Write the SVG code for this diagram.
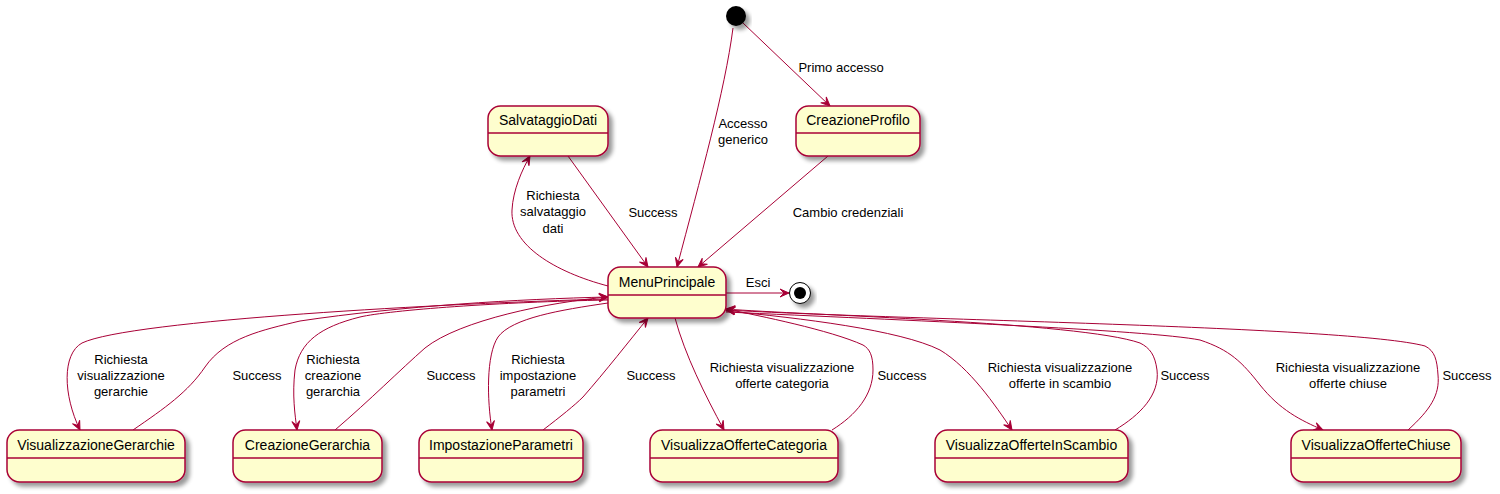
<svg xmlns="http://www.w3.org/2000/svg" width="1500" height="494" viewBox="0 0 1500 494">
<style>
.st{fill:#FEFECE;stroke:#A80036;stroke-width:1.5;}
.dv{stroke:#A80036;stroke-width:1.5;}
.nt{font-family:"Liberation Sans",Arial,sans-serif;font-size:14px;fill:#000;text-anchor:middle;}
.e{fill:none;stroke:#A80036;stroke-width:1;}
.ea{fill:none;stroke:#A80036;stroke-width:1;marker-end:url(#ah);}
.lb{font-family:"Liberation Sans",Arial,sans-serif;font-size:13px;fill:#000;text-anchor:middle;}
</style>
<defs>
<filter id="sh" x="-20%" y="-20%" width="150%" height="160%">
<feGaussianBlur in="SourceAlpha" stdDeviation="2" result="b"/>
<feOffset in="b" dx="4" dy="4" result="o"/>
<feComponentTransfer in="o" result="c"><feFuncA type="linear" slope="0.4"/></feComponentTransfer>
<feMerge><feMergeNode in="c"/><feMergeNode in="SourceGraphic"/></feMerge>
</filter>
<marker id="ah" viewBox="-10 -5 11 10" refX="0" refY="0" markerWidth="11" markerHeight="10" orient="auto" markerUnits="userSpaceOnUse">
<path d="M0,0 L-9,-4 L-5,0 L-9,4 Z" fill="#A80036" stroke="#A80036" stroke-width="1"/>
</marker>
</defs>
<rect width="1500" height="494" fill="#FFFFFF"/>

<g id="connectors">
<path class="ea" d="M743,23 L830,106"/>
<path class="ea" d="M733,28 C725,90 700,180 677,267"/>
<path class="ea" d="M828,156 L698,267"/>
<path class="ea" d="M568,156 L648,267"/>
<path class="ea" d="M608,286 C555,272 510,245 512,210 C513,190 522,170 530,156"/>
<path class="ea" d="M726,293 L789,293"/>

<path class="ea" d="M608,299 C450,303 130,320 82,343 C62,354 63,395 80,430"/>
<path class="ea" d="M133,430 C165,408 188,392 205,367 C225,338 262,330 300,321 C400,306 520,299 608,297"/>
<path class="ea" d="M608,300 C500,302 390,310 360,317 C320,327 300,342 295,370 C292,395 295,415 297,430"/>
<path class="ea" d="M335,430 C370,400 400,370 425,348 C460,320 550,302 608,297"/>
<path class="ea" d="M608,303 C560,310 512,318 498,337 C486,355 487,400 492,430"/>
<path class="ea" d="M543,430 C560,417 575,405 583,397 C605,372 630,340 648,318"/>
<path class="ea" d="M675,318 C685,355 705,395 724,430"/>
<path class="ea" d="M832,430 C856,415 873,395 873,370 C873,356 870,349 863,345 C830,330 760,316 726,309"/>
<path class="ea" d="M726,311 C800,318 900,330 940,350 C970,368 995,405 1012,430"/>
<path class="ea" d="M1115,430 C1140,415 1160,395 1157,370 C1155,355 1150,348 1140,343 C1080,322 800,315 726,309"/>
<path class="ea" d="M726,312 C900,320 1150,330 1200,340 C1230,350 1242,362 1260,385 C1280,410 1300,420 1323,430"/>
<path class="ea" d="M1408,430 C1430,410 1440,395 1438,375 C1437,360 1435,351 1425,346 C1350,326 900,320 726,310"/>
</g>

<g id="labels">
<text class="lb" x="841" y="72">Primo accesso</text>
<text class="lb" x="743" y="128">Accesso</text>
<text class="lb" x="743" y="144">generico</text>
<text class="lb" x="848" y="217">Cambio credenziali</text>
<text class="lb" x="653" y="217">Success</text>
<text class="lb" x="553" y="200">Richiesta</text>
<text class="lb" x="553" y="216">salvataggio</text>
<text class="lb" x="553" y="233">dati</text>
<text class="lb" x="758" y="287">Esci</text>

<text class="lb" x="121" y="364">Richiesta</text>
<text class="lb" x="121" y="380">visualizzazione</text>
<text class="lb" x="121" y="396">gerarchie</text>
<text class="lb" x="257" y="380">Success</text>
<text class="lb" x="333" y="364">Richiesta</text>
<text class="lb" x="333" y="380">creazione</text>
<text class="lb" x="333" y="396">gerarchia</text>
<text class="lb" x="451" y="380">Success</text>
<text class="lb" x="538" y="364">Richiesta</text>
<text class="lb" x="538" y="380">impostazione</text>
<text class="lb" x="538" y="396">parametri</text>
<text class="lb" x="651" y="380">Success</text>
<text class="lb" x="782" y="372">Richiesta visualizzazione</text>
<text class="lb" x="782" y="388">offerte categoria</text>
<text class="lb" x="902" y="380">Success</text>
<text class="lb" x="1060" y="372">Richiesta visualizzazione</text>
<text class="lb" x="1060" y="388">offerte in scambio</text>
<text class="lb" x="1185" y="380">Success</text>
<text class="lb" x="1348" y="372">Richiesta visualizzazione</text>
<text class="lb" x="1348" y="388">offerte chiuse</text>
<text class="lb" x="1467" y="380">Success</text>
</g>

<g id="start">
<circle cx="736" cy="16" r="10" fill="#000" filter="url(#sh)"/>
</g>
<g id="end">
<circle cx="800" cy="293" r="10.5" fill="#FFFFFF" stroke="#000" stroke-width="1" filter="url(#sh)"/>
<circle cx="800" cy="293" r="6" fill="#000"/>
</g>

<g id="SalvataggioDati">
<rect class="st" x="488" y="106" width="120" height="50" rx="12.5" filter="url(#sh)"/>
<line class="dv" x1="488" y1="133" x2="608" y2="133"/>
<text class="nt" x="548" y="125">SalvataggioDati</text>
</g>
<g id="CreazioneProfilo">
<rect class="st" x="796" y="106" width="124" height="50" rx="12.5" filter="url(#sh)"/>
<line class="dv" x1="796" y1="133" x2="920" y2="133"/>
<text class="nt" x="858" y="125">CreazioneProfilo</text>
</g>
<g id="MenuPrincipale">
<rect class="st" x="608" y="267" width="118" height="51" rx="12.5" filter="url(#sh)"/>
<line class="dv" x1="608" y1="295" x2="726" y2="295"/>
<text class="nt" x="667" y="287">MenuPrincipale</text>
</g>
<g id="VisualizzazioneGerarchie">
<rect class="st" x="7" y="430" width="178" height="52" rx="12.5" filter="url(#sh)"/>
<line class="dv" x1="7" y1="458" x2="185" y2="458"/>
<text class="nt" x="96" y="450">VisualizzazioneGerarchie</text>
</g>
<g id="CreazioneGerarchia">
<rect class="st" x="233" y="430" width="149" height="52" rx="12.5" filter="url(#sh)"/>
<line class="dv" x1="233" y1="458" x2="382" y2="458"/>
<text class="nt" x="307.5" y="450">CreazioneGerarchia</text>
</g>
<g id="ImpostazioneParametri">
<rect class="st" x="419" y="430" width="164" height="52" rx="12.5" filter="url(#sh)"/>
<line class="dv" x1="419" y1="458" x2="583" y2="458"/>
<text class="nt" x="501" y="450">ImpostazioneParametri</text>
</g>
<g id="VisualizzaOfferteCategoria">
<rect class="st" x="650" y="430" width="188" height="52" rx="12.5" filter="url(#sh)"/>
<line class="dv" x1="650" y1="458" x2="838" y2="458"/>
<text class="nt" x="744" y="450">VisualizzaOfferteCategoria</text>
</g>
<g id="VisualizzaOfferteInScambio">
<rect class="st" x="935" y="430" width="193" height="52" rx="12.5" filter="url(#sh)"/>
<line class="dv" x1="935" y1="458" x2="1128" y2="458"/>
<text class="nt" x="1031.5" y="450">VisualizzaOfferteInScambio</text>
</g>
<g id="VisualizzaOfferteChiuse">
<rect class="st" x="1291" y="430" width="170" height="52" rx="12.5" filter="url(#sh)"/>
<line class="dv" x1="1291" y1="458" x2="1461" y2="458"/>
<text class="nt" x="1376" y="450">VisualizzaOfferteChiuse</text>
</g>
</svg>
